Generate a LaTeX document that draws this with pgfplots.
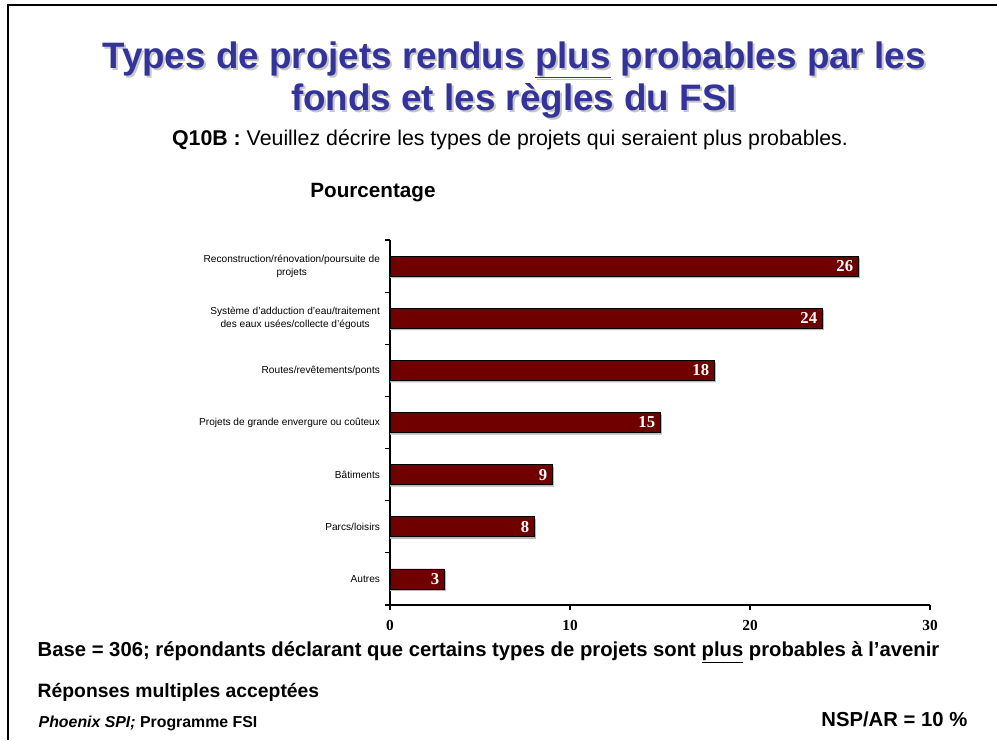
\documentclass[border=0pt]{standalone}
\usepackage{fontspec}
\setmainfont{Liberation Sans}
\newfontfamily\serifb{Liberation Serif}
\usepackage{pgfplots}
\pgfplotsset{compat=1.18}

\definecolor{titleblue}{RGB}{51,51,153}
\definecolor{barred}{RGB}{112,0,0}

\begin{document}
\begin{tikzpicture}
\begin{scope}[x=0.75pt,y=-0.75pt]
\path[use as bounding box] (0,0) rectangle (997,740);
\draw[line width=2pt] (8,740) -- (8,5) -- (997,5);

% title with soft shadow
\foreach \dx/\col in {2/gray!45, 0/titleblue}{
  \node[anchor=base, text=\col, font=\bfseries\fontsize{27.6}{32}\selectfont]
    at (514+\dx,68+\dx) {Types de projets rendus \underline{plus} probables par les};
  \node[anchor=base, text=\col, font=\bfseries\fontsize{27.6}{32}\selectfont]
    at (514+\dx,110+\dx) {fonds et les règles du FSI};
}
\node[anchor=base, font=\fontsize{16}{18}\selectfont] at (510,145)
  {\textbf{Q10B :} Veuillez décrire les types de projets qui seraient plus probables.};
\node[anchor=base, font=\bfseries\fontsize{15.5}{17}\selectfont] at (373,197) {Pourcentage};

\node[anchor=base west, font=\bfseries\fontsize{15.2}{17}\selectfont] at (33,656)
  {Base = 306; répondants déclarant que certains types de projets sont \underline{plus} probables à l’avenir};
\node[anchor=base west, font=\bfseries\fontsize{14.5}{17}\selectfont] at (33,697)
  {Réponses multiples acceptées};
\node[anchor=base west, font=\bfseries\fontsize{11.9}{13}\selectfont] at (34,727)
  {\textit{Phoenix SPI;} Programme FSI};
\node[anchor=base east, font=\bfseries\fontsize{15.2}{17}\selectfont] at (972,726)
  {NSP/AR = 10 \%};
\end{scope}

\begin{axis}[
  at={(292.5pt,-453.75pt)}, anchor=south west,
  scale only axis, width=405pt, height=273.75pt,
  xbar, bar width=15pt,
  xmin=0, xmax=30, ymin=-0.5, ymax=6.5,
  /pgf/number format/assume math mode=true,
  axis x line*=bottom, axis y line*=left,
  axis line style={black, line width=0.8pt},
  tick align=outside, major tick length=4pt,
  tick style={black, line width=0.8pt},
  xtick={0,10,20,30},
  xticklabel style={font=\serifb\bfseries\fontsize{11.5}{11.5}\selectfont, yshift=-4pt},
  ytick={-0.5,0.5,...,6.5}, yticklabels={},
  extra y ticks={0,1,2,3,4,5,6},
  extra y tick labels={
    Autres,
    Parcs/loisirs,
    Bâtiments,
    Projets de grande envergure ou coûteux,
    Routes/revêtements/ponts,
    {Système d'adduction d'eau/traitement\\des eaux usées/collecte d'égouts},
    {Reconstruction/rénovation/poursuite de\\projets}},
  extra y tick style={major tick length=0pt,
    yticklabel style={align=center, font=\fontsize{7.6}{9.5}\selectfont, xshift=-4pt}},
  nodes near coords,
  every node near coord/.append style={anchor=east, text=white,
    font=\serifb\bfseries\fontsize{12.5}{12.5}\selectfont},
]
% soft grey shadow under each bar
\addplot[fill=gray!55, draw=none, bar shift=-1.5pt, forget plot,
  nodes near coords={}, transform shape=false]
  coordinates {(3.1,0) (8.1,1) (9.1,2) (15.1,3) (18.1,4) (24.1,5) (26.1,6)};
\addplot[fill=barred, draw=black, line width=0.6pt] coordinates {
  (3,0) (8,1) (9,2) (15,3) (18,4) (24,5) (26,6)
};
\end{axis}
\end{tikzpicture}
\end{document}
